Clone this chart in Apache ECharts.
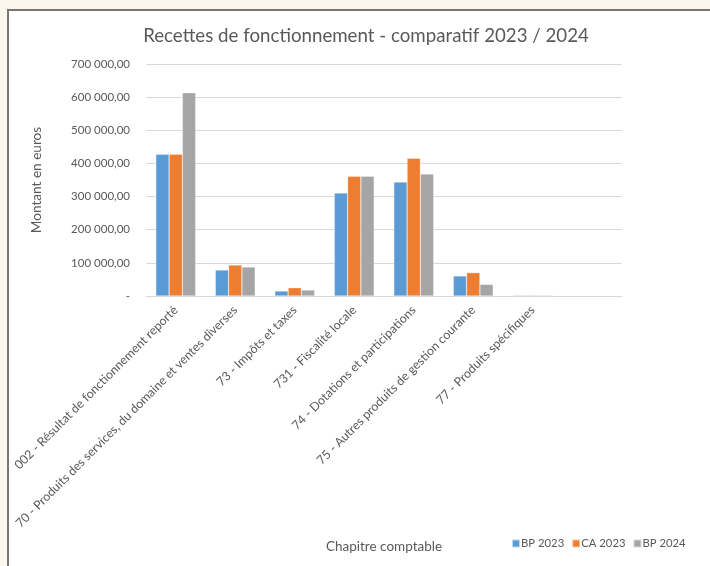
<!DOCTYPE html>
<html>
<head>
<meta charset="utf-8">
<script src="https://cdn.jsdelivr.net/npm/echarts@6/dist/echarts.min.js"></script>
<style>
html,body{margin:0;padding:0;width:710px;height:566px;overflow:hidden;background:#fbf6ee;}
#frame{position:absolute;left:7px;top:9px;width:740px;height:600px;background:#fff;border:2px solid #7a7671;}
#chart{position:absolute;left:0;top:0;width:710px;height:566px;}
</style>
</head>
<body>
<div id="frame"></div>
<div id="chart"></div>
<script>
const categories = [
  "002 - Résultat de fonctionnement reporté",
  "70 - Produits des services, du domaine et ventes diverses",
  "73 - Impôts et taxes",
  "731 - Fiscalité locale",
  "74 - Dotations et participations",
  "75 - Autres produits de gestion courante",
  "77 - Produits spécifiques",
  ""
];
const bp2023 = [427500, 78500, 15000, 311000, 344000, 60500, 2500, null];
const ca2023 = [427500, 93500, 25000, 361000, 415500, 70500, 2500, null];
const bp2024 = [613500, 87500, 18000, 361000, 368000, 35000, 2500, null];
const seriesNames = ["BP 2023", "CA 2023", "BP 2024"];
const colors = ["#5B9BD5", "#ED7D31", "#A5A5A5"];

function fmt(v){
  if (v === 0) return "-";
  const s = Math.round(v).toString().replace(/\B(?=(\d{3})+(?!\d))/g, " ");
  return s + ",00";
}

const chart = echarts.init(document.getElementById('chart'), null, {renderer:'canvas'});
const font = "Lato, 'Open Sans', sans-serif";
const mk = (name, data, i) => ({
  name, type:'bar', data,
  barGap:'0%', barCategoryGap:'33%',
  itemStyle:{color:colors[i], borderColor:'rgba(255,255,255,0.6)', borderWidth:0.5},
  emphasis:{disabled:true}
});
chart.setOption({
  backgroundColor:'transparent',
  animation:false,
  textStyle:{fontFamily:font},
  title:{text:'Recettes de fonctionnement - comparatif 2023 / 2024', left:361, top:21, textAlign:'center',
    textStyle:{fontFamily:font, fontSize:18.7, fontWeight:'normal', color:'#595959'}},
  grid:{left:146, right:88, top:64, bottom:270, containLabel:false},
  legend:{data:seriesNames, left:511, top:538, padding:0, itemWidth:8, itemHeight:8, itemGap:7,
    icon:'rect', textStyle:{fontFamily:font, fontSize:11.3, color:'#595959', padding:[0,0,0,-4]}},
  xAxis:{type:'category', data:categories,
    name:'Chapitre comptable', nameLocation:'middle', nameGap:244,
    nameTextStyle:{fontFamily:font, fontSize:13.5, color:'#595959'},
    axisLine:{lineStyle:{color:'#d9d9d9', width:1}},
    axisTick:{show:false},
    axisLabel:{interval:0, rotate:45, fontFamily:font, fontSize:12.3, color:'#595959', margin:12}},
  yAxis:{type:'value', min:0, max:700000, interval:100000,
    name:'Montant en euros', nameLocation:'middle', nameGap:102, nameRotate:90,
    nameTextStyle:{fontFamily:font, fontSize:13.6, color:'#595959'},
    axisLine:{show:false}, axisTick:{show:false},
    splitLine:{lineStyle:{color:'#d9d9d9', width:1}},
    axisLabel:{formatter:fmt, fontFamily:font, fontSize:11.5, color:'#595959', margin:16}},
  series:[mk(seriesNames[0], bp2023, 0), mk(seriesNames[1], ca2023, 1), mk(seriesNames[2], bp2024, 2)]
});
</script>
</body>
</html>
